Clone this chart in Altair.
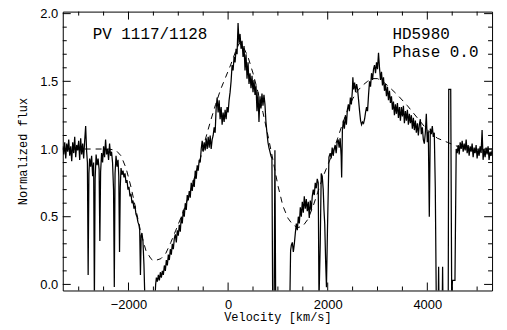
import altair as alt
import pandas as pd

# ---- spectrum (velocity km/s, normalized flux) ----
blue_wing = [(-3320,1.02),(-3300,0.96),(-3280,1.05),(-3260,0.93),(-3240,1.04),(-3220,0.98),(-3200,1.07),(-3180,0.95),
    (-3160,1.02),(-3140,0.91),(-3120,1.05),(-3100,0.97),(-3080,1.09),(-3060,0.94),(-3040,1.03),(-3020,0.99),(-3000,1.06),
    (-2980,0.92),(-2960,1.08),(-2940,0.96),(-2920,1.04),(-2900,0.93),(-2880,1.06),(-2860,1.17),(-2840,0.98),(-2825,0.9),
    (-2810,0.07),(-2795,0.82),(-2780,0.93),(-2760,0.87),(-2740,0.95),(-2720,0.8),(-2700,0.9),(-2685,-0.12),(-2670,0.78),
    (-2650,0.96),(-2630,0.88),(-2610,0.93),(-2590,0.85),(-2575,0.32),(-2560,0.83),(-2540,0.97),(-2520,0.9),(-2500,1.02),
    (-2480,0.94),(-2460,1.07),(-2440,0.96),(-2420,1.0),(-2400,0.92),(-2380,1.04),(-2360,0.95),(-2340,0.98),(-2320,0.9),
    (-2300,0.7),(-2285,-0.02),(-2270,0.82),(-2250,0.95),(-2230,0.87),(-2210,0.92),(-2195,0.8),(-2180,0.24),(-2165,0.72),
    (-2150,0.86),(-2130,0.81),(-2110,0.84),(-2090,0.79),(-2070,0.82),(-2050,0.75),(-2030,0.77),(-2010,0.7),(-1990,0.72),
    (-1970,0.65),(-1950,0.67),(-1930,0.6),(-1910,0.62),(-1890,0.56),(-1870,0.58),(-1850,0.52),(-1830,0.5),(-1810,0.46),
    (-1790,0.44),(-1775,0.4),(-1760,0.07),(-1745,0.36),(-1730,0.38),(-1710,0.32),(-1690,0.15),(-1670,-0.12)]

blue_rise = [(-1470,-0.12),(-1455,0.0),(-1440,0.05),(-1420,0.02),(-1400,0.07),(-1380,0.03),(-1360,0.09),(-1340,0.05),
    (-1320,0.1),(-1300,0.07),(-1280,0.14),(-1260,0.1),(-1240,0.18),(-1220,0.14),(-1200,0.22),(-1180,0.18),(-1160,0.26),
    (-1140,0.22),(-1120,0.3),(-1100,0.26),(-1080,0.34),(-1060,0.37),(-1040,0.31),(-1020,0.4),(-1000,0.36),(-980,0.44),
    (-960,0.39),(-940,0.5),(-920,0.45),(-900,0.55),(-880,0.5),(-860,0.6),(-840,0.55),(-820,0.66),(-800,0.62),
    (-780,0.69),(-760,0.64),(-740,0.75),(-720,0.69),(-700,0.77),(-680,0.72),(-660,0.84),(-640,0.78),(-620,0.88),
    (-600,0.84),(-580,0.92),(-560,0.9),(-540,1.0),(-520,1.06),(-500,0.98),(-480,1.05),(-460,0.99),(-440,1.08),
    (-420,1.0),(-400,1.09),(-380,1.01),(-360,1.1),(-340,1.0),(-320,1.07)]

main_peak = [(-300,1.1),(-280,1.16),(-260,1.12),(-240,1.3),(-220,1.38),(-200,1.27),(-180,1.36),(-160,1.22),
    (-140,1.31),(-120,1.18),(-100,1.27),(-80,1.2),(-60,1.29),(-40,1.22),(-20,1.31),(0,1.27),(20,1.36),(40,1.42),
    (60,1.5),(80,1.62),(100,1.58),(120,1.68),(140,1.64),(160,1.74),(180,1.7),(200,1.93),(220,1.78),(240,1.85),
    (260,1.74),(280,1.8),(300,1.68),(320,1.76),(340,1.58),(360,1.7),(380,1.52),(400,1.64),(420,1.48),(440,1.56),
    (460,1.45),(480,1.54),(500,1.42),(520,1.51),(540,1.4),(560,1.47),(580,1.28),(600,1.42),(620,1.2),(640,1.39),
    (660,1.3),(680,1.41),(700,1.32),(720,1.4),(740,1.33),(760,1.2),(780,1.12),(800,1.05),(820,1.01),(840,0.98),
    (860,0.95),(880,0.93)]

second_peak = [(895,-0.12),(925,-0.12),(940,0.99),(955,-0.12),(1240,-0.12),(1255,0.25),(1270,0.29),(1290,0.31),
    (1310,0.24),(1330,0.3),(1350,0.38),(1370,0.45),(1390,0.4),(1410,0.5),(1430,0.45),(1450,0.57),(1470,0.5),
    (1490,0.61),(1510,0.53),(1530,0.65),(1550,0.56),(1570,0.63),(1590,0.54),(1610,0.61),(1630,0.49),(1650,0.62),
    (1670,0.55),(1690,0.65),(1710,0.7),(1730,0.66),(1750,0.75),(1770,0.71),(1790,0.78),(1810,0.75),(1825,-0.12),
    (1850,0.3),(1870,0.82),(1890,0.8),(1910,0.7),(1925,0.55),(1940,0.45),(1960,0.15),(1975,-0.02),(1995,0.4),
    (2025,0.94),(2050,0.97),(2070,0.93),(2090,1.01),(2110,0.95),(2130,1.0),(2150,1.03),(2170,0.97),(2190,1.05),
    (2210,1.07),(2230,1.01),(2250,1.08),(2270,0.95),(2280,0.79),(2295,1.14),(2315,1.21),(2335,1.15),(2355,1.25),
    (2375,1.18),(2395,1.29),(2415,1.33),(2435,1.28),(2455,1.38),(2475,1.33),(2495,1.43),(2505,1.53),(2520,1.44),
    (2540,1.49),(2560,1.42),(2580,1.48),(2600,1.44),(2620,1.36),(2640,1.28),(2660,1.21),(2680,1.18),(2700,1.2),
    (2720,1.19),(2740,1.22),(2760,1.27),(2780,1.31),(2800,1.28),(2820,1.4),(2840,1.5),(2860,1.46),(2880,1.56),
    (2900,1.51),(2920,1.59),(2940,1.62),(2960,1.56),(2980,1.64),(3000,1.59),(3020,1.71)]

red_wing = [(3040,1.6),(3060,1.51),(3080,1.57),(3100,1.47),(3120,1.53),(3140,1.43),(3160,1.48),(3180,1.39),(3200,1.46),
    (3220,1.36),(3240,1.43),(3260,1.34),(3280,1.39),(3300,1.29),(3320,1.35),(3340,1.25),(3360,1.33),(3380,1.26),
    (3400,1.34),(3420,1.23),(3440,1.31),(3460,1.21),(3480,1.31),(3500,1.24),(3520,1.32),(3540,1.19),(3560,1.28),
    (3580,1.21),(3600,1.29),(3620,1.18),(3640,1.26),(3660,1.19),(3680,1.25),(3700,1.15),(3720,1.23),(3740,1.14),
    (3760,1.21),(3780,1.12),(3800,1.19),(3820,1.1),(3840,1.18),(3860,1.22),(3880,1.11),(3900,1.16),(3920,1.07),
    (3940,1.04),(3960,1.12),(3980,1.26),(4000,1.05),(4020,1.13),(4040,0.5),(4060,1.15),(4080,1.11),(4100,1.17),
    (4120,1.09),(4140,1.12),(4160,0.72),(4180,-0.12),(4220,-0.12),(4227,0.13),(4234,-0.12),(4300,-0.12),(4307,0.13),
    (4314,-0.12),(4420,-0.12),(4430,1.44),(4470,1.44),(4490,-0.12),(4505,0.03),(4555,0.03),(4580,1.0),(4600,0.97),
    (4620,1.03),(4640,0.96),(4660,1.05),(4680,1.0),(4700,1.06),(4720,0.98),(4740,1.04),(4760,0.99),(4780,1.07),
    (4800,0.97),(4820,1.03),(4840,0.95),(4860,1.02),(4880,0.98),(4900,1.04),(4920,0.94),(4940,1.01),(4960,0.97),
    (4980,1.03),(5000,0.93),(5020,1.0),(5040,0.95),(5060,1.02),(5080,0.97),(5100,1.14),(5120,0.92),(5140,1.0),
    (5160,0.94),(5180,1.01),(5200,0.96),(5220,1.02),(5240,0.92),(5260,0.98),(5280,0.95),(5300,0.99),(5320,0.96)]

# ---- model profile (dashed) ----
model_pts = [(-3320,1.0),(-2400,1.0),(-2250,0.99),(-2150,0.95),(-2050,0.86),(-1950,0.72),(-1850,0.55),(-1750,0.38),
    (-1650,0.25),(-1550,0.19),(-1500,0.175),(-1450,0.178),(-1350,0.19),(-1250,0.23),(-1150,0.31),(-1050,0.4),
    (-950,0.49),(-850,0.59),(-750,0.7),(-650,0.82),(-550,0.94),(-450,1.08),(-350,1.21),(-250,1.33),(-150,1.44),
    (-50,1.53),(50,1.62),(150,1.72),(220,1.78),(300,1.76),(400,1.68),(500,1.56),(600,1.42),(700,1.27),(800,1.1),
    (900,0.92),(1000,0.73),(1100,0.58),(1200,0.49),(1300,0.44),(1400,0.42),(1500,0.43),(1600,0.48),(1700,0.57),
    (1800,0.68),(1900,0.79),(2000,0.88),(2100,0.97),(2200,1.08),(2300,1.19),(2400,1.29),(2500,1.37),(2600,1.43),
    (2700,1.47),(2800,1.5),(2900,1.52),(3000,1.52),(3100,1.5),(3200,1.47),(3400,1.4),(3600,1.32),(3800,1.23),
    (4000,1.14),(4200,1.08),(4400,1.05),(4600,1.02),(4800,1.0),(5320,1.0)]

# ---- axes ----
x_major = [-2000, 0, 2000, 4000]
x_minor = [-3000, -2500, -1500, -1000, -500, 500, 1000, 1500, 2500, 3000, 3500, 4500, 5000]
y_major = [0.0, 0.5, 1.0, 1.5, 2.0]
y_minor = [0.1, 0.2, 0.3, 0.4, 0.6, 0.7, 0.8, 0.9, 1.1, 1.2, 1.3, 1.4, 1.6, 1.7, 1.8, 1.9]
x_domain = [-3320, 5300]
y_domain = [-0.045, 2.015]

# ---- annotations ----
ann_text = ["PV 1117/1128", "HD5980", "Phase 0.0"]
ann_v = [-2720, 3300, 3300]
ann_f = [1.85, 1.85, 1.72]

W, H = 431, 280
MAJ, MIN = 8, 4

spec = pd.DataFrame(blue_wing + blue_rise + main_peak + second_peak + red_wing, columns=["v", "f"])
spec["i"] = range(len(spec))
model = pd.DataFrame(model_pts, columns=["v", "f"])
model["i"] = range(len(model))

xs = alt.Scale(domain=x_domain, nice=False, zero=False)
ys = alt.Scale(domain=y_domain, nice=False, zero=False)

x_axis = alt.Axis(values=x_major, format="d", ticks=False, tickSize=0, grid=False, domain=False,
                  labelFont="Liberation Sans", labelFontSize=13, labelPadding=8, labelColor="black",
                  title="Velocity [km/s]", titleFont="Liberation Mono", titleFontSize=12,
                  titleFontWeight="normal", titlePadding=0, titleColor="black")
y_axis = alt.Axis(values=y_major, format=".1f", ticks=False, tickSize=0, grid=False, domain=False,
                  labelFont="Liberation Sans", labelFontSize=13, labelPadding=5, labelColor="black",
                  title="Normalized flux", titleFont="Liberation Mono", titleFontSize=12,
                  titleFontWeight="normal", titlePadding=10, titleColor="black")

X = alt.X("v:Q", scale=xs, axis=x_axis)
Y = alt.Y("f:Q", scale=ys, axis=y_axis)

spec_line = alt.Chart(spec).mark_line(color="black", strokeWidth=1.25, clip=True,
                                      strokeJoin="miter").encode(x=X, y=Y, order="i:Q")
model_line = alt.Chart(model).mark_line(color="black", strokeWidth=1, strokeDash=[6, 5],
                                        clip=True).encode(x=X, y=Y, order="i:Q")

def xticks(vals, L):
    d = pd.DataFrame({"v": vals})
    b = alt.Chart(d).mark_rule(color="black", strokeWidth=1).encode(x=X, y=alt.value(H), y2=alt.value(H - L))
    t = alt.Chart(d).mark_rule(color="black", strokeWidth=1).encode(x=X, y=alt.value(0), y2=alt.value(L))
    return [b, t]

def yticks(vals, L):
    d = pd.DataFrame({"f": vals})
    l = alt.Chart(d).mark_rule(color="black", strokeWidth=1).encode(y=Y, x=alt.value(0), x2=alt.value(L))
    r = alt.Chart(d).mark_rule(color="black", strokeWidth=1).encode(y=Y, x=alt.value(W), x2=alt.value(W - L))
    return [l, r]

ann = pd.DataFrame({"v": ann_v, "f": ann_f, "t": ann_text})
labels = alt.Chart(ann).mark_text(font="Liberation Mono", fontSize=16, align="left", baseline="middle",
                                  color="black").encode(x=X, y=Y, text="t:N")

layers = [model_line, spec_line] + xticks(x_major, MAJ) + xticks(x_minor, MIN) + \
         yticks(y_major, MAJ) + yticks(y_minor, MIN) + [labels]

chart = alt.layer(*layers).properties(
    width=W, height=H,
    padding={"left": 16, "top": 7, "right": 14, "bottom": 4},
    background="white",
).configure_view(stroke="black", strokeWidth=1)

chart.save("out.html", embed_options={"renderer": "svg", "actions": False})
